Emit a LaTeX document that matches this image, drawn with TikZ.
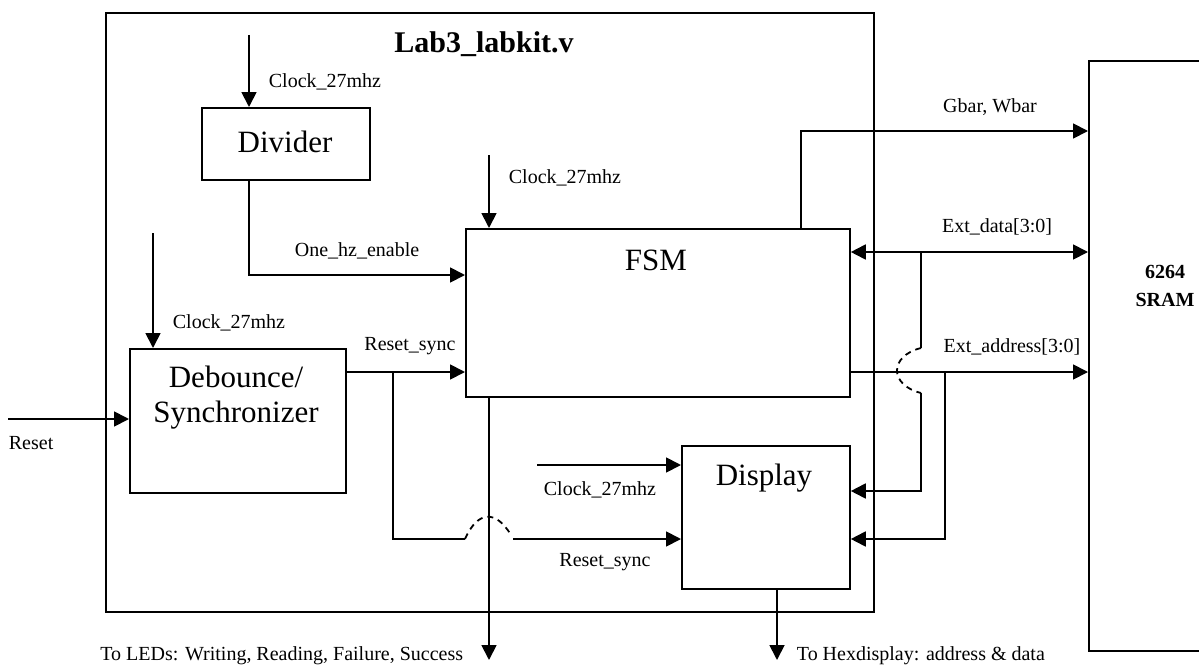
\documentclass[tikz,border=0pt]{standalone}
\usepackage{fontspec}
\setmainfont{Liberation Serif}
\usetikzlibrary{arrows.meta}

\begin{document}
\begin{tikzpicture}[x=1pt,y=-1pt,line width=1.8pt,
    >={Triangle[length=15pt,width=15pt]},
    blk/.style={draw,inner sep=0pt,anchor=north west},
    big/.style={font=\fontsize{31}{35}\selectfont,inner sep=0pt},
    sml/.style={font=\fontsize{20}{22}\selectfont,inner sep=0pt},
    hop/.style={dash pattern=on 6pt off 5pt}]
    \useasboundingbox (0,0) rectangle (1199,669);
    \clip (0,0) rectangle (1199,669);
    % blocks
    \node[blk,minimum width=768pt,minimum height=599pt] (labkit) at (105,12) {};
    \node[blk,minimum width=130pt,minimum height=590pt] (sram) at (1088,60) {};
    \node[blk,minimum width=168pt,minimum height=72pt] (div) at (201,107) {};
    \node[blk,minimum width=384pt,minimum height=168pt] (fsm) at (465,228) {};
    \node[blk,minimum width=216pt,minimum height=144pt] (deb) at (129,348) {};
    \node[blk,minimum width=168pt,minimum height=143pt] (disp) at (681,445) {};
    \node[font=\bfseries\fontsize{30}{32}\selectfont,inner sep=0pt] (labkittxt) at (484,44) {Lab3\_labkit.v};
    \node[big] (divtxt) at (285,142) {Divider};
    \node[big] (fsmtxt) at (656,260) {FSM};
    \node[big,align=center] (debtxt) at (236,398) {Debounce/\\Synchronizer};
    \node[big] (disptxt) at (764,478) {Display};
    \node[font=\bfseries\fontsize{20}{28}\selectfont,align=center,inner sep=0pt] (sramtxt) at (1165,286) {6264\\SRAM};
    % free ends
    \coordinate (divclk) at (249,35);
    \coordinate (fsmclk) at (489,155);
    \coordinate (debclk) at (153,233);
    \coordinate (dispclk) at (537,465);
    \coordinate (rstin) at (8,419);
    \coordinate (rstbr) at (393,372);
    \coordinate (ledout) at (489,660);
    \coordinate (hexout) at (777,660);
    \coordinate (databr) at (921,252);
    \coordinate (addrbr) at (945,372);
    %\coordinate (gbar) at (801,131);
    % clocks
    \draw[->] (divclk) -- (divclk |- div.north);
    \draw[->] (fsmclk) -- (fsmclk |- fsm.north);
    \draw[->] (debclk) -- (debclk |- deb.north);
    \draw[->] (dispclk) -- (disp.west |- dispclk);
    \node[sml,anchor=west] (divclktxt) at (268,82) {Clock\_27mhz};
    \node[sml,anchor=west] (fsmclktxt) at (508,178) {Clock\_27mhz};
    \node[sml,anchor=west] (debclktxt) at (172,323) {Clock\_27mhz};
    \node[sml] (dispclktxt) at (600,490) {Clock\_27mhz};
    % divider, reset
    \draw[->] (div.south -| divclk) |- (fsm.west |- 0,275);
    \node[sml] (onehztxt) at (357,251) {One\_hz\_enable};
    \draw[->] (rstin) -- (deb.west |- rstin);
    \node[sml,anchor=west] (rsttxt) at (8,443) {Reset};
    \draw[->] (deb.east |- rstbr) -- (fsm.west |- rstbr);
    \node[sml] (rstsynctxt) at (410,346) {Reset\_sync};
    \draw (rstbr) |- (465,539);
    \draw[hop] (465,539) .. controls (478,510) and (496,510) .. (511,535);
    \draw[->] (513,539) -- (disp.west |- 0,539);
    \node[sml] (rstsynctxtb) at (605,562) {Reset\_sync};
    % outputs
    \draw[->] (fsm.south -| ledout) -- (ledout);
    \node[sml,anchor=east] (ledtxt) at (464,656) {To LEDs: Writing, Reading, Failure, Success};
    \draw[->] (disp.south -| hexout) -- (hexout);
    \node[sml,anchor=west] (hextxt) at (796,656) {To Hexdisplay: address \& data};
    % sram bus
    \draw[->] (fsm.north -| 801,0) |- (sram.west |- 0,131);
    \node[sml] (gbartxt) at (990,107) {Gbar, Wbar};
    \draw[<->] (fsm.east |- databr) -- (sram.west |- databr);
    \node[sml] (datatxt) at (997,227) {Ext\_data[3:0]};
    \draw[->] (fsm.east |- addrbr) -- (sram.west |- addrbr);
    \node[sml] (addrtxt) at (1012,347) {Ext\_address[3:0]};
    \draw (databr) -- (921,348);
    \draw[hop] (921,348) .. controls (889,356) and (889,385) .. (921,393);
    \draw[->] (921,393) |- (disp.east |- 0,491);
    \draw[->] (addrbr) |- (disp.east |- 0,539);
\end{tikzpicture}
\end{document}
